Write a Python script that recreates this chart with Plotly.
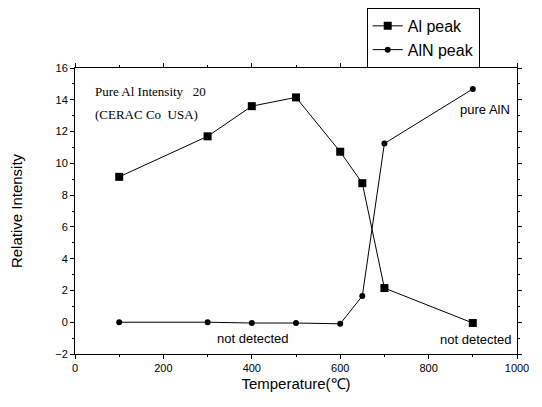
import plotly.graph_objects as go

temps = [100, 300, 400, 500, 600, 650, 700, 900]
al_peak = [9.15, 11.7, 13.6, 14.15, 10.73, 8.75, 2.15, -0.05]
aln_peak = [0.0, 0.0, -0.05, -0.05, -0.1, 1.65, 11.25, 14.68]

x_ticks = [0, 200, 400, 600, 800, 1000]
y_ticks = [-2, 0, 2, 4, 6, 8, 10, 12, 14, 16]

fig = go.Figure()
fig.add_trace(go.Scatter(
    x=temps, y=al_peak, mode="lines+markers", name="Al peak", legendgroup="a",
    line=dict(color="black", width=1),
    marker=dict(symbol="square", size=8, color="black"),
))
fig.add_trace(go.Scatter(
    x=temps, y=aln_peak, mode="lines+markers", name="AlN peak", legendgroup="b",
    line=dict(color="black", width=1),
    marker=dict(symbol="circle", size=6, color="black"),
))

axis_common = dict(
    showline=True, linecolor="black", linewidth=1, mirror="allticks",
    ticks="outside", ticklen=4, tickcolor="black", showgrid=False, zeroline=False,
    automargin=False,
    tickfont=dict(family="Liberation Sans, Arial", size=11, color="black"),
)

fig.update_xaxes(range=[0, 1000], tickvals=x_ticks,
                 minor=dict(ticks="outside", ticklen=2, dtick=100, tickcolor="black"),
                 title=dict(text="Temperature(℃)", font=dict(family="Liberation Sans, Arial", size=15, color="black"), standoff=5),
                 **axis_common)
fig.update_yaxes(range=[-2, 16], tickvals=y_ticks,
                 minor=dict(ticks="outside", ticklen=2, dtick=1, tickcolor="black"),
                 title=dict(text="Relative Intensity", font=dict(family="Liberation Sans, Arial", size=15, color="black"), standoff=30),
                 **axis_common)

serif = dict(family="Liberation Serif, Times New Roman", size=13, color="black")
sans = dict(family="Liberation Sans, Arial", size=13, color="black")
fig.add_annotation(x=40, y=14.5, xref="x", yref="y", text="Pure Al Intensity   20",
                   showarrow=False, xanchor="left", font=serif)
fig.add_annotation(x=40, y=13.1, xref="x", yref="y", text="(CERAC Co  USA)",
                   showarrow=False, xanchor="left", font=serif)
fig.add_annotation(x=989, y=13.4, xref="x", yref="y", text="pure AlN",
                   showarrow=False, xanchor="right", font=sans)
fig.add_annotation(x=403, y=-1.02, xref="x", yref="y", text="not detected",
                   showarrow=False, xanchor="center", font=sans)
fig.add_annotation(x=993, y=-1.08, xref="x", yref="y", text="not detected",
                   showarrow=False, xanchor="right", font=sans)

fig.update_layout(
    width=534, height=399,
    margin=dict(l=67, r=25, t=60, b=53, autoexpand=False),
    paper_bgcolor="white", plot_bgcolor="white",
    showlegend=True,
    legend=dict(x=0.66, y=1.21, xanchor="left", yanchor="top",
                bordercolor="black", borderwidth=1, bgcolor="white",
                font=dict(family="Liberation Sans, Arial", size=16, color="black"),
                traceorder="grouped", tracegroupgap=0, itemwidth=30),
)

fig.write_html("out.html")
